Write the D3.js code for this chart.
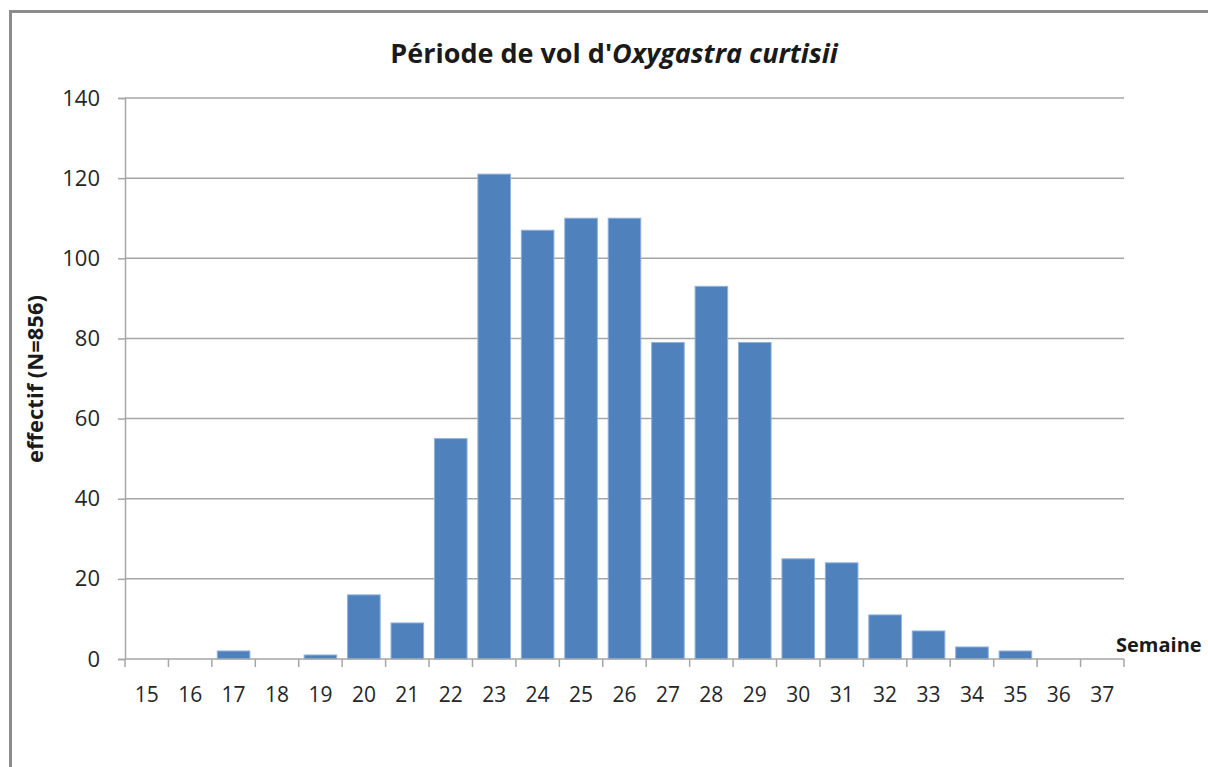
<!DOCTYPE html>
<html>
<head>
<meta charset="utf-8">
<script src="https://cdn.jsdelivr.net/npm/d3@7"></script>
<style>
  html, body { margin: 0; padding: 0; background: #fff; overflow: hidden; }
  svg { display: block; }
  text { font-family: "Open Sans", "Noto Sans", sans-serif; }
</style>
</head>
<body>
<svg id="chart" width="1208" height="767"></svg>
<script>
const weeks = ["15","16","17","18","19","20","21","22","23","24","25","26","27","28","29","30","31","32","33","34","35","36","37"];
const counts = [0,0,2,0,1,16,9,55,121,107,110,110,79,93,79,25,24,11,7,3,2,0,0];
const yTicks = [0,20,40,60,80,100,120,140];
const titlePlain = "Période de vol d'";
const titleItalic = "Oxygastra curtisii";
const yLabel = "effectif (N=856)";
const xLabel = "Semaine";

const svg = d3.select("#chart");
const W = 1208, H = 767;
const plotLeft = 125, plotRight = 1124, plotTop = 98, plotBottom = 659;

// outer frame
svg.append("rect").attr("x", 10.5).attr("y", 11.5).attr("width", W + 20).attr("height", H + 20)
  .attr("fill", "#fff").attr("stroke", "#8c8c8c").attr("stroke-width", 3);

const x = d3.scaleBand().domain(weeks).range([plotLeft, plotRight]).paddingInner(0.25).paddingOuter(0.125);
const y = d3.scaleLinear().domain([0, 140]).range([plotBottom, plotTop]);

// gridlines
svg.append("g").selectAll("line").data(yTicks.filter(d => d > 0)).join("line")
  .attr("x1", plotLeft).attr("x2", plotRight)
  .attr("y1", d => y(d)).attr("y2", d => y(d))
  .attr("stroke", "#a6a6a6").attr("stroke-width", 1.5);

// bars
svg.append("g").selectAll("rect").data(weeks.map((w, i) => ({w, v: counts[i]})).filter(d => d.v > 0)).join("rect")
  .attr("x", d => x(d.w)).attr("width", x.bandwidth())
  .attr("y", d => y(d.v)).attr("height", d => y(0) - y(d.v))
  .attr("fill", "#4f81bd").attr("stroke", "#8fb1dc").attr("stroke-width", 1);

// y axis
const yAxis = d3.axisLeft(y).tickValues(yTicks).tickSize(7).tickPadding(18);
const gy = svg.append("g").attr("transform", `translate(${plotLeft},0)`).call(yAxis);
gy.select(".domain").attr("stroke", "#a6a6a6").attr("stroke-width", 1.5);
gy.selectAll(".tick line").attr("stroke", "#a6a6a6").attr("stroke-width", 1.5);
gy.selectAll(".tick text").attr("font-size", 22).attr("fill", "#262626")
  .style("font-family", '"Open Sans", "Noto Sans", sans-serif');

// x axis baseline with boundary ticks
const boundaries = d3.range(weeks.length + 1).map(i => plotLeft + i * (plotRight - plotLeft) / weeks.length);
svg.append("line").attr("x1", plotLeft).attr("x2", plotRight).attr("y1", plotBottom).attr("y2", plotBottom)
  .attr("stroke", "#a6a6a6").attr("stroke-width", 1.5);
svg.append("g").selectAll("line").data(boundaries).join("line")
  .attr("x1", d => d).attr("x2", d => d).attr("y1", plotBottom).attr("y2", plotBottom + 8)
  .attr("stroke", "#a6a6a6").attr("stroke-width", 1.5);
svg.append("g").selectAll("text").data(weeks).join("text")
  .attr("x", d => x(d) + x.bandwidth() / 2).attr("y", plotBottom + 43)
  .attr("text-anchor", "middle").attr("font-size", 21).attr("fill", "#262626")
  .text(d => d);

// title
const t = svg.append("text").attr("x", 614).attr("y", 63).attr("text-anchor", "middle")
  .attr("font-size", 27).attr("font-weight", "bold").attr("fill", "#1a1a1a");
t.append("tspan").text(titlePlain);
t.append("tspan").attr("font-style", "italic").text(titleItalic);

// y label
svg.append("text").attr("transform", "translate(43,379) rotate(-90)")
  .attr("text-anchor", "middle").attr("font-size", 22).attr("font-weight", "bold").attr("fill", "#1a1a1a")
  .text(yLabel);

// x label
svg.append("text").attr("x", 1116).attr("y", 652).attr("font-size", 20).attr("font-weight", "bold")
  .attr("fill", "#1a1a1a").text(xLabel);
</script>
</body>
</html>
